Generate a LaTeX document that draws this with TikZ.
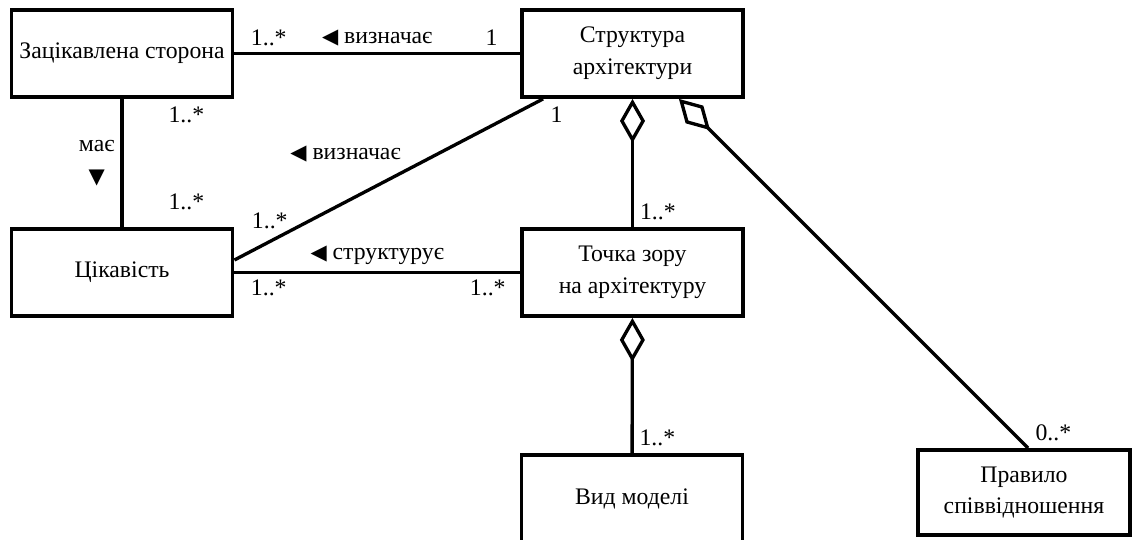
\documentclass[tikz,border=0pt]{standalone}
\usepackage{fontspec}
\setmainfont{Liberation Serif}
\newfontfamily\symfont{DejaVu Sans}
\usetikzlibrary{arrows.meta}

\newcommand{\tril}{{\fontsize{12}{12}\symfont ◀}}
\newcommand{\trid}{{\fontsize{12}{12}\symfont ▼}}

\begin{document}
\begin{tikzpicture}[font=\fontsize{13.5}{18}\selectfont,
		cls/.style={draw, line width=2.2pt, minimum width=4.42cm, minimum height=1.74cm, align=center, inner sep=0pt},
		assoc/.style={line width=1.9pt},
		aggr/.style={assoc, {Diamond[open, length=0.88cm, width=0.5cm]}-}]
		\useasboundingbox (0,0) rectangle (22.68,10.8);
		
		\node[cls] (stake) at (2.44,9.73) {Зацікавлена сторона};
		\node[cls] (inter) at (2.44,5.35) {Цікавість};
		\node[cls] (arch) at (12.65,9.73) {Структура\\архітектури};
		\node[cls] (view) at (12.65,5.35) {Точка зору\\на архітектуру};
		\node[cls] (model) at (12.64,0.83) {Вид моделі};
		\node[cls, minimum width=4.24cm, minimum height=1.7cm] (rule) at (20.48,0.95) {Правило\\співвідношення};
		
		\draw[assoc] (stake) -- (arch)
			node[at start, above right, xshift=0.18cm] {1..*}
			node[at end, above left, xshift=-0.3cm] {1}
			node[midway, above] {\tril\ визначає};
		\draw[assoc] (stake) -- (inter)
			node[midway, left, align=center] {має\\\trid}
			node[at start, below right, xshift=0.78cm] {1..*}
			node[at end, above right, xshift=0.78cm, yshift=0.2cm] {1..*};
		\draw[assoc] ([xshift=0.46cm]arch.south west) -- ([yshift=0.25cm]inter.east)
			node[at start, below right] {1}
			node[pos=0.64, above=0.65cm] {\tril\ визначає}
			node[at end, above right, xshift=0.2cm, yshift=0.48cm] {1..*};
		\draw[assoc] (inter) -- (view)
			node[midway, above] {\tril\ структурує}
			node[at start, below right, xshift=0.18cm] {1..*}
			node[at end, below left, xshift=-0.14cm] {1..*};
		\draw[aggr] (arch) -- (view) node[at end, above right] {1..*};
		\draw[aggr] (view) -- (model) node[at end, above right] {1..*};
		\draw[aggr] ([xshift=-1.32cm]arch.south east) -- ([xshift=0.08cm]rule.north)
			node[at end, above right] {0..*};
	\end{tikzpicture}
\end{document}
